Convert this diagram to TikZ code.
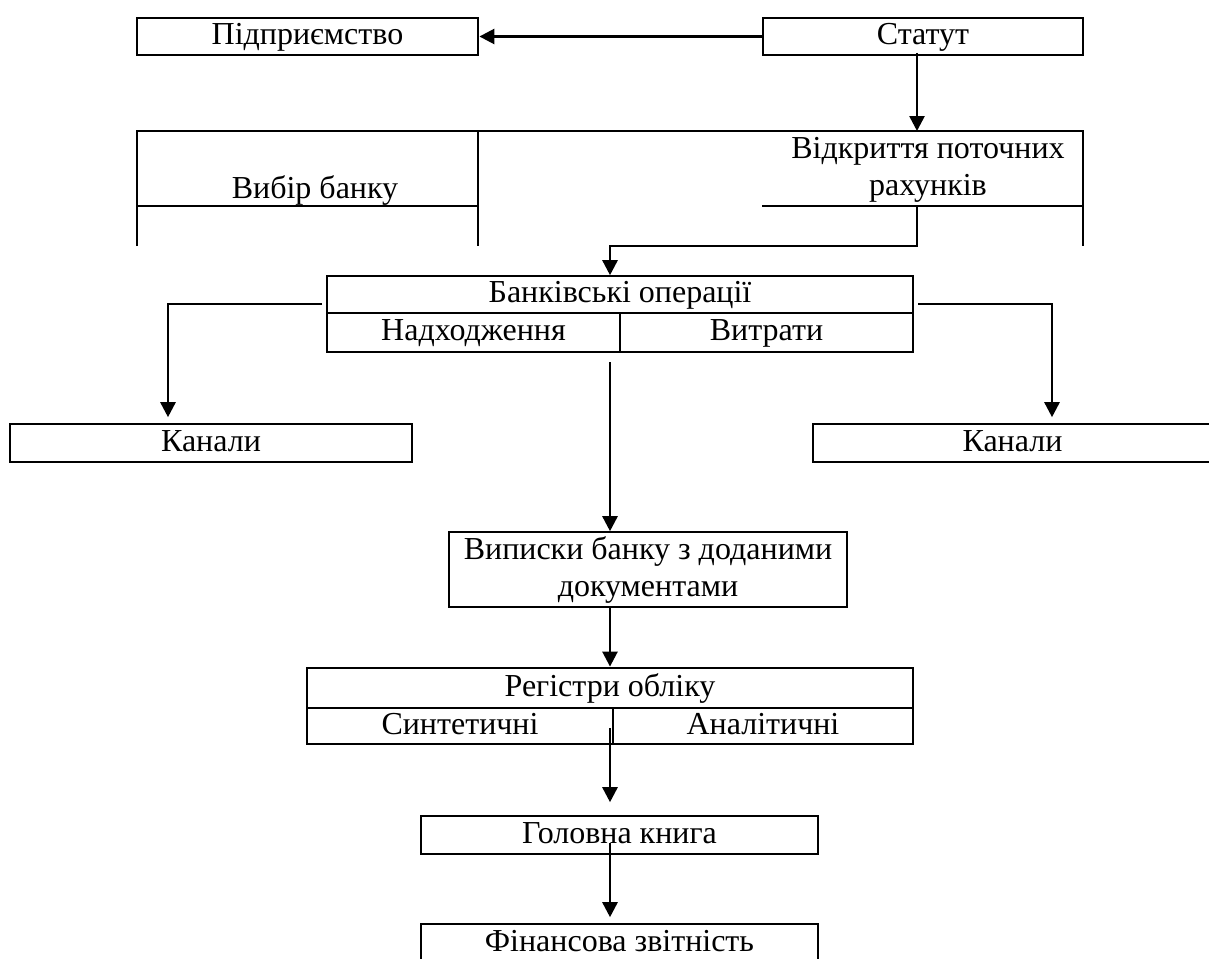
\documentclass[tikz,border=0pt]{standalone}
\usepackage{fontspec}
\setmainfont{Liberation Serif}
\usetikzlibrary{arrows.meta, positioning, calc}
\tikzset{%
	box/.style={draw, rectangle, inner sep=0pt, line width=2.8pt, text height=21pt, text depth=5pt},
	thinbox/.style={box, line width=1.6pt},
	mbox/.style={draw, rectangle, inner sep=0pt, line width=1.6pt, align=center},
	textnode/.style={inner sep=0pt, align=center},
	wall/.style={line width=2.8pt},
	sel/.style={-{Triangle[length=15pt,width=15pt]}, line width=2.6pt}
}
\begin{document}
\begin{tikzpicture}[x=1pt, y=-1pt, font=\fontsize{32}{37}\selectfont]
	\useasboundingbox (0,0) rectangle (1209,958);
	\node[box, minimum width=341pt, minimum height=37pt] (ent) at (307.5,36.5) {Підприємство};
	\node[box, minimum width=320pt, minimum height=37pt] (stat) at (923,36.5) {Статут};
	\node[textnode, text height=21pt, text depth=5pt] (choice) at (315,190) {Вибір банку};
	\node[textnode] (open) at (928,170) {Відкриття поточних\\рахунків};
	\node[thinbox, minimum width=586pt, minimum height=37pt] (bop) at (620,294.5) {Банківські операції};
	\node[thinbox, minimum width=293pt, minimum height=39pt] (inc) at (473.5,332.5) {Надходження};
	\node[thinbox, minimum width=293pt, minimum height=39pt] (exp) at (766.5,332.5) {Витрати};
	\node[thinbox, minimum width=402pt, minimum height=38pt] (ch-l) at (211,443) {Канали};
	\node[thinbox, minimum width=399pt, minimum height=38pt] (ch-r) at (1012.5,443) {Канали};
	\node[mbox, minimum width=398pt, minimum height=75pt] (stm) at (648,569.5) {Виписки банку з доданими\\документами};
	\node[box, minimum width=606pt, minimum height=40pt] (reg) at (610,688) {Регістри обліку};
	\node[box, minimum width=306pt, minimum height=36pt] (syn) at (460,726) {Синтетичні};
	\node[box, minimum width=300pt, minimum height=36pt] (ana) at (763,726) {Аналітичні};
	\node[thinbox, minimum width=397pt, minimum height=38pt] (book) at (619.5,835) {Головна книга};
	\node[thinbox, minimum width=397pt, minimum height=38pt] (fin) at (619.5,943) {Фінансова звітність};

	\draw [wall] (137,246) -- (137,131) -- (1083,131) -- (1083,246);
	\draw [wall] (478,131) -- (478,246);
	\draw [wall] (137,206) -- (478,206);
	\draw [wall] (762,206) -- (1083,206);

	\coordinate (s-out) at (917,53);
	\coordinate (big-in) at (917,131);
	\coordinate (o-out) at (917,206);
	\coordinate (o-bend) at (917,246);
	\coordinate (l-out) at (322,304);
	\coordinate (r-out) at (918,304);
	\coordinate (m-out) at (610,362);
	\coordinate (g-out) at (610,728);
	\coordinate (b-out) at (610,843);

	\draw [sel] (stat.west) -- (ent.east);
	\draw [sel] (s-out) -- (big-in);
	\draw [sel] (o-out) -- (o-bend) -| (bop.north -| m-out);
	\draw [sel, shorten >=6pt] (l-out) -| (ch-l.north -| 168,0);
	\draw [sel, shorten >=6pt] (r-out) -| (ch-r.north -| 1052,0);
	\draw [sel] (m-out) -- (stm.north -| m-out);
	\draw [sel] (stm.south -| reg.north) -- (reg.north);
	\draw [sel, shorten >=13pt] (g-out) -- (book.north -| g-out);
	\draw [sel, shorten >=6pt] (b-out) -- (fin.north -| b-out);
\end{tikzpicture}
\end{document}
